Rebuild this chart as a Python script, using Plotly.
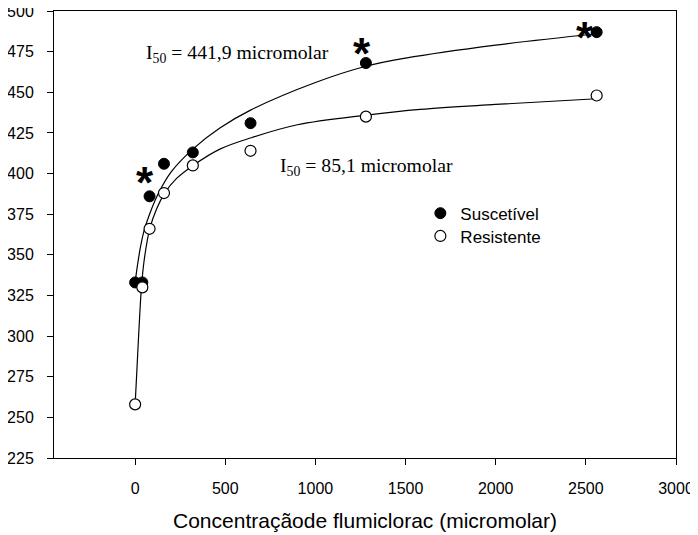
import plotly.graph_objects as go

conc = [0, 40, 80, 160, 320, 640, 1280, 2560]
suscetivel = [333, 333, 386, 406, 413, 431, 468, 487]
resistente = [258, 330, 366, 388, 405, 414, 435, 448]

# Fitted curves
sus_fit_x = [0, 15, 30, 50, 80, 130, 200, 320, 470, 640, 1000, 1280, 1500, 2000, 2560]
sus_fit_y = [333, 345, 355, 365, 375, 388, 401, 415, 428, 439, 456, 466, 471, 479, 486]
res_fit_x = [0, 7, 16, 26, 35, 50, 81, 120, 164, 230, 322, 470, 643, 900, 1286, 1582, 2000, 2560]
res_fit_y = [258, 273, 293, 314, 330, 346.5, 366, 378.5, 388, 397, 405, 415, 422, 430, 436, 439.5, 442.5, 446]

# Significance asterisks
ast_x = [53, 1258, 2497]
ast_y = [399, 478, 488]

# Labels
i50_text = ["I<sub>50</sub> = 441,9 micromolar", "I<sub>50</sub> = 85,1 micromolar"]
i50_x = [50, 795]
i50_y = [474, 404.5]

x_ticks = [0, 500, 1000, 1500, 2000, 2500, 3000]
y_ticks = [225, 250, 275, 300, 325, 350, 375, 400, 425, 450, 475, 500]

fig = go.Figure()
fig.add_trace(go.Scatter(x=sus_fit_x, y=sus_fit_y, mode="lines", line=dict(color="black", width=1.2, shape="spline"),
                         showlegend=False, hoverinfo="skip"))
fig.add_trace(go.Scatter(x=res_fit_x, y=res_fit_y, mode="lines", line=dict(color="black", width=1.2, shape="spline"),
                         showlegend=False, hoverinfo="skip"))
fig.add_trace(go.Scatter(x=conc, y=suscetivel, mode="markers", name="Suscetível", legend="legend",
                         marker=dict(symbol="circle", size=11, color="black", line=dict(color="black", width=1))))
fig.add_trace(go.Scatter(x=conc, y=resistente, mode="markers", name="Resistente", legend="legend2",
                         marker=dict(symbol="circle", size=11, color="white", line=dict(color="black", width=1.2))))

annotations = []
for ax_, ay_ in zip(ast_x, ast_y):
    annotations.append(dict(x=ax_, y=ay_, text="<b>*</b>", showarrow=False, xref="x", yref="y",
                            font=dict(family="Liberation Sans, Arial", size=44, color="black"), yshift=-7))
for t, tx, ty in zip(i50_text, i50_x, i50_y):
    annotations.append(dict(x=tx, y=ty, text=t, showarrow=False, xref="x", yref="y", xanchor="left",
                            font=dict(family="Liberation Serif, Times New Roman", size=19.7, color="black")))

legend_font = dict(family="Liberation Sans, Arial", size=17, color="black")

# the page body adds an 8px offset; margins compensate for it
fig.update_layout(
    width=690, height=527,
    margin=dict(l=46, r=22, t=3, b=77),
    paper_bgcolor="white", plot_bgcolor="white",
    font=dict(family="Liberation Sans, Arial", color="black"),
    annotations=annotations,
    legend=dict(x=0.589, y=0.587, xanchor="left", yanchor="top", bgcolor="rgba(0,0,0,0)", font=legend_font),
    legend2=dict(x=0.589, y=0.536, xanchor="left", yanchor="top", bgcolor="rgba(0,0,0,0)", font=legend_font),
    xaxis=dict(range=[-450, 3000], tickvals=x_ticks, ticks="outside", ticklen=6, tickcolor="black",
               showline=True, linecolor="black", linewidth=1, mirror=True, showgrid=False, zeroline=False,
               tickfont=dict(size=16), ticklabelstandoff=10, automargin=False, ticklabeloverflow="allow",
               title=dict(text="Concentraçãode flumiclorac (micromolar)", font=dict(size=21), standoff=17)),
    yaxis=dict(range=[225, 500], tickvals=y_ticks, ticks="outside", ticklen=6, tickcolor="black",
               showline=True, linecolor="black", linewidth=1, mirror=True, showgrid=False, zeroline=False,
               tickfont=dict(size=16), ticklabelstandoff=10, automargin=False, ticklabeloverflow="allow"),
)

fig.write_html("out.html")
